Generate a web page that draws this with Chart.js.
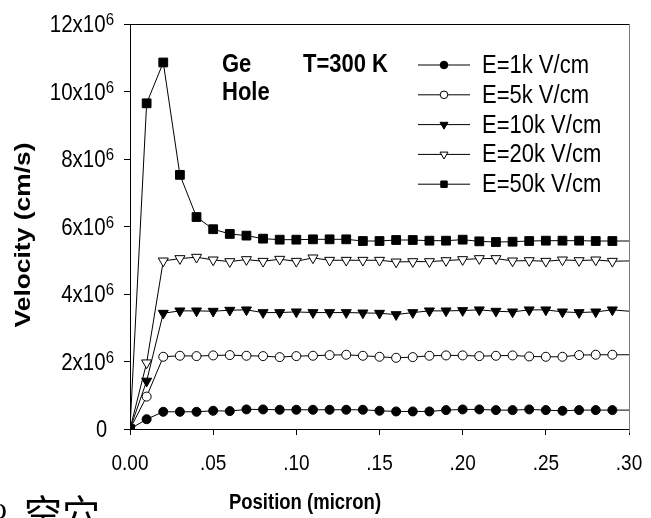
<!DOCTYPE html>
<html>
<head>
<meta charset="utf-8">
<script src="https://cdn.jsdelivr.net/npm/chart.js@4.4.0/dist/chart.umd.min.js"></script>
<style>
html, body { margin: 0; padding: 0; background: #fff; overflow: hidden; }
</style>
</head>
<body>
<canvas id="myChart" width="651" height="518"></canvas>
<script>
// position along the device (micron); last entry is the line end without a marker
const positions = [0, 0.01, 0.02, 0.03, 0.04, 0.05, 0.06, 0.07, 0.08, 0.09,
    0.10, 0.11, 0.12, 0.13, 0.14, 0.15, 0.16, 0.17, 0.18, 0.19,
    0.20, 0.21, 0.22, 0.23, 0.24, 0.25, 0.26, 0.27, 0.28, 0.29, 0.30]

// hole velocity in units of 10^6 cm/s
const v1k = [0, 0.29, 0.51, 0.51, 0.51, 0.54, 0.53, 0.58, 0.58, 0.57,
    0.57, 0.57, 0.57, 0.57, 0.57, 0.54, 0.52, 0.52, 0.52, 0.56,
    0.58, 0.58, 0.56, 0.56, 0.58, 0.56, 0.54, 0.56, 0.56, 0.56, 0.56]
const v5k = [0, 0.96, 2.14, 2.17, 2.16, 2.18, 2.19, 2.17, 2.16, 2.13,
    2.16, 2.17, 2.19, 2.20, 2.17, 2.14, 2.11, 2.13, 2.17, 2.18,
    2.18, 2.16, 2.17, 2.18, 2.15, 2.14, 2.14, 2.19, 2.20, 2.20, 2.20]
const v10k = [0, 1.42, 3.43, 3.50, 3.50, 3.49, 3.52, 3.53, 3.45, 3.45,
    3.47, 3.45, 3.45, 3.45, 3.44, 3.43, 3.39, 3.45, 3.50, 3.50,
    3.51, 3.53, 3.49, 3.47, 3.53, 3.53, 3.47, 3.45, 3.47, 3.53, 3.49]
const v20k = [0, 1.96, 4.98, 5.05, 5.09, 5.01, 4.96, 5.02, 4.97, 5.03,
    4.97, 5.07, 5.00, 5.00, 5.00, 5.00, 4.95, 4.96, 4.96, 4.99,
    5.02, 5.05, 5.05, 4.98, 4.99, 4.97, 5.01, 4.99, 5.01, 4.97, 4.98]
const v50k = [0, 9.65, 10.86, 7.53, 6.28, 5.92, 5.78, 5.73, 5.64, 5.61,
    5.61, 5.62, 5.62, 5.62, 5.57, 5.57, 5.60, 5.60, 5.58, 5.58,
    5.61, 5.56, 5.54, 5.55, 5.57, 5.58, 5.58, 5.58, 5.57, 5.57, 5.57]

const seriesNames = ["E=1k V/cm", "E=5k V/cm", "E=10k V/cm", "E=20k V/cm", "E=50k V/cm"]
const seriesValues = [v1k, v5k, v10k, v20k, v50k]
const markers = [
    { style: 'circle', fill: '#000', r: 4.5, rot: 0 },
    { style: 'circle', fill: '#fff', r: 4.5, rot: 0 },
    { style: 'triangle', fill: '#000', r: 5.8, rot: 180 },
    { style: 'triangle', fill: '#fff', r: 5.8, rot: 180 },
    { style: 'rect', fill: '#000', r: 6.2, rot: 0 }
]
const xTicks = [0, 0.05, 0.10, 0.15, 0.20, 0.25, 0.30]
const yTicks = [0, 2, 4, 6, 8, 10, 12]

const SANS = '"Liberation Sans", Arial, sans-serif'
const TALL = 1.15 // glyphs in this figure run a bit taller than wide

const txt = (ctx, s, x, y, font, align, sy) => {
    ctx.save()
    ctx.translate(x, y)
    ctx.scale(1, sy || TALL)
    ctx.font = font
    ctx.textAlign = align
    ctx.textBaseline = 'alphabetic'
    ctx.fillText(s, 0, 0)
    ctx.restore()
}

// small marker for the legend rows
const legendMarker = (ctx, m, x, y, r) => {
    ctx.beginPath()
    if (m.style === 'circle') {
        ctx.arc(x, y, r, 0, Math.PI * 2)
    } else if (m.style === 'rect') {
        ctx.rect(x - r * 0.7, y - r * 0.7, r * 1.4, r * 1.4)
    } else {
        ctx.moveTo(x, y + r)
        ctx.lineTo(x - r * 0.866, y - r * 0.5)
        ctx.lineTo(x + r * 0.866, y - r * 0.5)
        ctx.closePath()
    }
    ctx.fillStyle = m.fill
    ctx.fill()
    ctx.stroke()
}

const decor = {
    id: 'decor',
    afterDraw(chart) {
        const { ctx, chartArea: a, scales: { x, y } } = chart
        ctx.save()
        ctx.lineWidth = 1
        // frame: top black, right grey
        ctx.strokeStyle = '#000'
        ctx.beginPath()
        ctx.moveTo(a.left, a.top + 0.5)
        ctx.lineTo(a.right + 1, a.top + 0.5)
        ctx.stroke()
        ctx.strokeStyle = '#7a7a7a'
        ctx.beginPath()
        ctx.moveTo(a.right + 0.5, a.top)
        ctx.lineTo(a.right + 0.5, a.bottom + 4)
        ctx.stroke()

        ctx.fillStyle = '#000'
        // y tick labels with exponent
        for (const v of yTicks) {
            const py = y.getPixelForValue(v)
            if (v === 0) {
                txt(ctx, '0', 107, py + 8, '20px ' + SANS, 'right')
                continue
            }
            ctx.font = '15px ' + SANS
            const w6 = ctx.measureText('6').width
            txt(ctx, '6', 114, py + 1, '15px ' + SANS, 'right')
            txt(ctx, v + 'x10', 114 - w6, py + 8, '20.5px ' + SANS, 'right')
        }
        // x tick labels
        for (const v of xTicks) {
            const px = x.getPixelForValue(v)
            const s = v === 0 ? '0.00' : '.' + String(Math.round(v * 100)).padStart(2, '0')
            txt(ctx, s, px, 470, '19px ' + SANS, 'center')
        }
        // axis titles
        txt(ctx, 'Position (micron)', 305, 509, 'bold 18.5px ' + SANS, 'center')
        ctx.save()
        ctx.translate(30, 235)
        ctx.rotate(-Math.PI / 2)
        ctx.scale(1.2, 1)
        txt(ctx, 'Velocity (cm/s)', 0, 0, 'bold 22px ' + SANS, 'center', 1)
        ctx.restore()

        // notes inside the plot
        txt(ctx, 'Ge', 222, 72, 'bold 22px ' + SANS, 'left')
        txt(ctx, 'Hole', 222, 100, 'bold 22px ' + SANS, 'left')
        txt(ctx, 'T=300 K', 303, 72, 'bold 22px ' + SANS, 'left')

        // legend
        ctx.strokeStyle = '#000'
        seriesNames.forEach((name, i) => {
            const ry = 65 + i * 29.8
            ctx.beginPath()
            ctx.moveTo(418, ry)
            ctx.lineTo(470, ry)
            ctx.stroke()
            const m = markers[i]
            legendMarker(ctx, m, 444, ry, m.style === 'circle' ? 3.8 : 4.6)
            ctx.fillStyle = '#000'
            txt(ctx, name, 482, ry + 8, '22px ' + SANS, 'left')
        })

        // caption fragment below the figure
        txt(ctx, 'o', -9, 519, '32px "Liberation Serif", serif', 'left', 1)
        txt(ctx, '空穴', 24, 527, '38px "Noto Sans CJK SC", sans-serif', 'left', 1)
        ctx.restore()
    }
}

const datasets = seriesNames.map((name, i) => {
    const m = markers[i]
    return {
        label: name,
        data: positions.map((p, k) => ({ x: p, y: seriesValues[i][k] })),
        borderColor: '#000',
        borderWidth: 1,
        pointStyle: m.style,
        pointRotation: m.rot,
        pointBackgroundColor: m.fill,
        pointBorderColor: '#000',
        pointBorderWidth: 1,
        pointRadius: positions.map((p, k) => k === positions.length - 1 ? 0 : m.r),
        tension: 0
    }
})

const ctx = document.getElementById('myChart').getContext('2d')
const myChart = new Chart(ctx, {
    type: 'line',
    data: { datasets },
    options: {
        responsive: false,
        animation: false,
        events: [],
        layout: { padding: { left: 0, top: 24, right: 22, bottom: 0 } },
        plugins: { legend: { display: false }, tooltip: { enabled: false } },
        scales: {
            x: {
                type: 'linear',
                min: 0,
                max: 0.3,
                afterFit: s => { s.height = 89 },
                afterBuildTicks: s => { s.ticks = xTicks.map(v => ({ value: v })) },
                ticks: { display: false },
                grid: { drawOnChartArea: false, drawTicks: true, tickLength: 6, color: '#000' },
                border: { color: '#000', width: 1 }
            },
            y: {
                min: 0,
                max: 12,
                afterFit: s => { s.width = 130 },
                afterBuildTicks: s => { s.ticks = yTicks.map(v => ({ value: v })) },
                ticks: { display: false },
                grid: { drawOnChartArea: false, drawTicks: true, tickLength: 6, color: '#000' },
                border: { color: '#000', width: 1 }
            }
        }
    },
    plugins: [decor]
})
</script>
</body>
</html>
